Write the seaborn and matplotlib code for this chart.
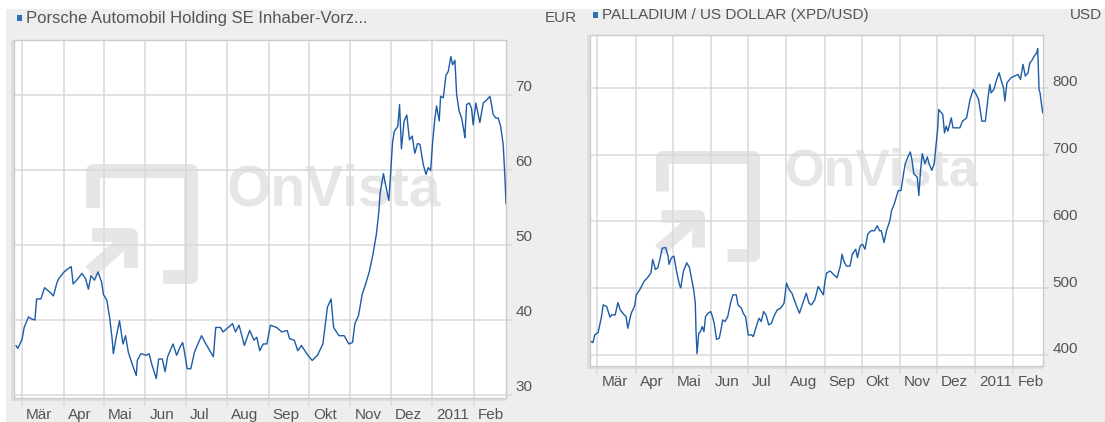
import matplotlib
matplotlib.use("Agg")
import matplotlib.pyplot as plt
from matplotlib.lines import Line2D
from matplotlib.patches import Rectangle
from matplotlib.transforms import ScaledTranslation
import pandas as pd
import seaborn as sns

# Zeitachse: Tage ab 01.03.2010
start = pd.Timestamp("2010-03-01")
month_ticks = pd.date_range("2010-03-01", "2011-02-01", freq="MS")
month_labels = ["Mär", "Apr", "Mai", "Jun", "Jul", "Aug", "Sep", "Okt", "Nov", "Dez", "2011", "Feb"]

# Porsche SE Vorzugsaktie (EUR)
por_day = [-4.5, -3.2, 0, 1.6, 4.8, 7.5, 9.6, 10.9, 14.1, 16.8, 20.8, 23.4, 26.1, 27.4, 31.4,
           34.1, 36.7, 38.1, 40.7, 44.7, 47.4, 49.5, 51.4, 54.0, 56.7, 59.4, 60.7, 63.3, 65.5,
           67.3, 68.1, 70.0, 72.7, 75.3, 77.2, 79.3, 82.0, 85.2, 86.0, 88.6, 92.6, 94.8, 96.6,
           100.1, 101.9, 104.6, 106.7, 108.6, 112.6, 115.3, 117.9, 119.8, 121.4, 123.2, 125.9,
           128.6, 131.2, 133.9, 136.5, 142.7, 144.5, 148.0, 149.9, 153.8, 157.0, 159.2, 161.8,
           164.0, 165.8, 169.8, 173.0, 175.1, 177.3, 179.9, 182.6, 185.3, 189.8, 193.8, 197.8,
           199.6, 203.1, 205.7, 208.4, 212.4, 216.4, 220.4, 224.4, 227.8, 230.5, 232.4, 236.4,
           240.3, 243.8, 246.5, 248.3, 251.0, 253.7, 256.3, 259.0, 261.6, 264.3, 266.2, 267.0,
           269.6, 271.5, 273.6, 275.0, 276.3, 277.6, 280.3, 281.6, 283.0, 285.0, 287.0, 289.0,
           291.0, 293.0, 295.0, 296.8, 299.3, 301.3, 303.0, 304.8, 306.3, 308.0, 309.2, 311.2,
           312.2, 314.2, 316.2, 317.9, 319.9, 321.2, 322.9, 324.2, 326.1, 327.9, 329.6, 330.3,
           331.6, 333.5, 335.3, 336.5, 338.5, 340.2, 341.5, 344.0, 346.5, 349.0, 350.2, 351.4,
           353.4, 355.2, 357.0, 358.9, 360.2, 361.0]
por_val = [36.6, 36.2, 37.4, 39.0, 40.4, 40.1, 40.0, 42.8, 42.8, 44.3, 43.7, 43.2, 45.0, 45.5, 46.4,
           46.8, 47.1, 44.8, 45.3, 46.2, 45.5, 44.1, 45.9, 45.3, 46.4, 45.0, 43.4, 42.6, 40.1,
           37.3, 35.5, 37.5, 39.9, 36.8, 37.9, 35.7, 34.2, 32.6, 34.6, 35.5, 35.3, 35.5, 34.2,
           32.2, 34.8, 34.8, 33.1, 35.1, 36.8, 35.3, 36.4, 37.0, 35.5, 33.5, 33.5,
           35.7, 36.8, 37.9, 37.0, 35.1, 39.0, 39.0, 38.4, 39.0, 39.5, 38.4, 39.3,
           37.9, 36.6, 38.6, 37.3, 37.7, 35.9, 36.8, 36.8, 39.3, 39.0, 38.4, 38.6,
           37.5, 37.3, 35.9, 36.6, 35.5, 34.6, 35.3, 36.8, 41.7, 42.8, 39.0, 37.9,
           37.9, 36.8, 37.0, 39.5, 40.6, 43.4, 44.8, 46.4, 48.6, 51.4, 54.5, 56.8,
           59.5, 57.7, 55.9, 59.7, 63.5, 65.1, 65.8, 68.7, 62.8, 66.5, 67.3, 64.0,
           64.5, 62.2, 63.5, 63.4, 60.7, 59.4, 60.3, 59.9, 63.8, 66.9, 68.5, 66.5,
           69.8, 69.6, 72.6, 73.1, 75.1, 74.0, 74.6, 70.0, 67.8, 66.9, 65.2, 64.3,
           68.7, 68.9, 68.2, 66.0, 68.9, 67.4, 66.3, 68.9, 69.3, 69.8, 68.7, 67.4,
           66.9, 66.9, 65.8, 63.4, 59.0, 55.5]

# Palladium / US-Dollar
pal_day = [-5.0, -3.6, -2.2, 0.6, 3.3, 4.7, 7.5, 8.8, 10.2, 11.6, 14.4, 16.6, 18.5, 21.3, 23.2,
           24.6, 27.4, 30.2, 31.5, 34.3, 37.9, 40.6, 43.4, 44.8, 47.0, 48.9, 50.9, 52.5, 55.3,
           57.2, 58.1, 60.0, 62.0, 64.1, 66.4, 67.5, 69.7, 72.4, 74.6, 76.6, 78.0, 79.3, 79.9,
           80.7, 82.1, 83.5, 84.9, 86.3, 87.6, 89.6, 91.8, 93.2, 94.6, 96.5, 98.7, 100.1, 101.5,
           103.4, 105.6, 107.8, 109.8, 112.5, 113.9, 116.7, 118.1, 120.0, 122.2, 125.0, 126.3,
           129.1, 131.0, 132.7, 134.6, 136.6, 138.8, 141.0, 142.9, 145.7, 148.5, 151.2, 153.2,
           155.4, 157.6, 159.5, 161.5, 163.7, 166.4, 169.2, 171.4, 173.3, 176.1, 178.9, 183.0,
           184.4, 185.8, 188.6, 191.3, 194.1, 196.8, 198.2, 199.6, 201.8, 204.6, 206.5, 209.3,
           210.7, 212.9, 214.8, 216.8, 219.0, 221.7, 224.5, 226.7, 228.6, 230.0, 232.2, 234.2,
           236.9, 238.3, 240.5, 242.5, 243.8, 246.0, 248.0, 249.4, 251.6, 253.5, 254.9, 256.3,
           259.1, 260.4, 261.8, 263.2, 265.4, 267.3, 268.7, 270.9, 272.9, 274.2, 275.6, 276.5,
           279.8, 281.2, 282.6, 283.9, 286.7, 288.1, 290.8, 293.6, 295.8, 299.1, 301.9, 304.6,
           306.9, 308.8, 311.5, 314.3, 316.3, 317.9, 319.0, 321.2, 323.5, 325.4, 327.3, 329.0,
           330.1, 331.8, 335.1, 337.9, 340.7, 342.8, 344.8, 346.7, 348.9, 350.3, 351.7, 353.9,
           355.9, 356.7, 357.8, 358.6, 360.0, 360.8]
pal_val = [420, 418.5, 430, 433.5, 457.5, 475, 472.5, 465, 456.5, 460, 460, 478.5, 467.5, 461, 457.5,
           440, 462.5, 473.5, 490, 497.5, 510.6, 515.6, 523, 543, 528, 530.6, 545.7, 559.8, 560.8,
           548, 535.7, 545.7, 548, 525.6, 505.5, 500.5, 525.6, 538, 530.6, 510.6, 497.5, 477.5, 435,
           402, 432.5, 435, 442.5, 435, 457.5, 462.5, 465, 457.5, 447.5, 423.5, 425, 437.5, 452.5,
           450, 457.5, 477.5, 490, 490, 475, 470, 462.5, 457.5, 430, 430, 427.5,
           445, 455, 450, 465, 460, 445, 447.5, 457.5, 467.5, 470, 477.5, 507.5,
           497.5, 492.5, 482.5, 472.5, 462.5, 477.5, 492.5, 477.5, 475, 482.5, 502.5, 490,
           510.6, 523, 525.6, 520.6, 515.6, 533, 550.8, 540.7, 533, 533, 550.8, 558.3,
           545.7, 563.3, 565.8, 558.3, 580.9, 586, 586, 593.5, 586, 586, 568.3, 586,
           601, 616, 626, 638.7, 646.2, 646.2, 671.4, 686.4, 696.5, 704, 691.5, 671.4,
           666.3, 638.7, 676.4, 701.5, 686.4, 696.5, 686.4, 676.4, 686.4, 711.6, 736.7, 767.5,
           760, 732.5, 742.5, 735, 755, 740, 740, 740, 750, 755, 782.5, 797.5,
           790, 782.5, 750, 750, 782.5, 805, 792.5, 797.5, 812.5, 822.5, 810, 800,
           780, 807.5, 815, 817.5, 820, 812.5, 835, 817.5, 822.5, 837.5, 840, 847.5,
           852.5, 858.5, 797.5, 792.5, 772.5, 762.5]

W, H = 1105, 422
BG = "#eeeeee"
GRID = "#d9d9d9"
LINE = "#1d5ca6"
TXT = "#555555"
MARK = "#2f6fb3"
WM = "#e6e6e6"

sns.set_theme(style="white")
plt.rcParams["font.family"] = ["Liberation Sans", "DejaVu Sans"]

fig = plt.figure(figsize=(W / 100, H / 100), dpi=100, facecolor="white")
fig.add_artist(Rectangle((6 / W, 0), 1, 1 - 9 / H, transform=fig.transFigure,
                         facecolor=BG, edgecolor="none", zorder=-2))


def fx(x):
    return x / W


def fy(y):
    return 1 - y / H


def watermark(ax, x0, y0, s, tx, ty, tsize):
    # OnVista-Logo (Rahmen + Pfeil) und Schriftzug, grob nachgezeichnet
    paths = [
        [(10, 44), (10, 7), (108, 7), (108, 113), (80, 113)],
        [(9, 71), (48, 71), (48, 104)],
        [(7, 108), (45, 74)],
    ]
    for p in paths:
        xs = [fx(x0 + s * px) for px, _ in p]
        ys = [fy(y0 + s * py) for _, py in p]
        ax.add_line(Line2D(xs, ys, transform=fig.transFigure, color=WM, lw=10 * s,
                           solid_joinstyle="round", solid_capstyle="butt", zorder=0.2))
    ax.text(fx(tx), fy(ty), "OnVista", transform=fig.transFigure, fontsize=tsize,
            fontweight="bold", color=WM, ha="center", va="center", zorder=0.2)


def draw_panel(box, days, vals, ylim, yticks, title, tsize, unit, unit_x, title_y, lab_up, xpad):
    x0, y0, x1, y1 = box
    # leichter Schatten links/unten
    fig.add_artist(Rectangle((fx(x0 - 3), fy(y1 + 3)), (x1 - x0 + 3) / W, (y1 - y0 + 3) / H,
                             transform=fig.transFigure, facecolor="#dedede",
                             edgecolor="none", zorder=-1))
    ax = fig.add_axes([fx(x0), fy(y1), (x1 - x0) / W, (y1 - y0) / H])
    ax.set_facecolor("white")
    dates = start + pd.to_timedelta(days, unit="D")
    sns.lineplot(x=dates, y=vals, ax=ax, color=LINE, linewidth=1.0,
                 estimator=None, sort=False, zorder=3)
    ax.set_xlim(pd.Timestamp("2010-02-23"), pd.Timestamp("2011-02-25"))
    ax.set_ylim(*ylim)
    ax.set_xticks(month_ticks)
    ax.set_xticklabels(month_labels)
    ax.set_yticks(yticks)
    ax.set_yticklabels([str(v) for v in yticks])
    ax.yaxis.tick_right()
    ax.grid(True, color=GRID, linewidth=1.1)
    ax.set_axisbelow(True)
    ax.set_xlabel("")
    ax.set_ylabel("")
    for sp in ax.spines.values():
        sp.set_color("#cccccc")
        sp.set_linewidth(1.0)
    ax.tick_params(axis="x", bottom=True, length=6, width=1.1, color=GRID, pad=xpad,
                   labelsize=11, labelcolor=TXT)
    ax.tick_params(axis="y", right=True, left=False, length=4, width=1.1, color=GRID, pad=3,
                   labelsize=11, labelcolor=TXT)
    shift_x = ScaledTranslation(4 / 100, 0, fig.dpi_scale_trans)
    for lab in ax.get_xticklabels():
        lab.set_horizontalalignment("left")
        lab.set_transform(lab.get_transform() + shift_x)
    shift_y = ScaledTranslation(0, lab_up / 100, fig.dpi_scale_trans)
    for lab in ax.get_yticklabels():
        lab.set_transform(lab.get_transform() + shift_y)
    # Titel mit blauem Kästchen, Einheit rechts oben
    fig.add_artist(Rectangle((fx(x0 + 3), fy(title_y + 3)), 5 / W, 6 / H,
                             transform=fig.transFigure, facecolor=MARK, edgecolor="none"))
    fig.text(fx(x0 + 12), fy(title_y), title, fontsize=tsize, color=TXT, ha="left", va="center")
    fig.text(fx(unit_x), fy(title_y), unit, fontsize=11, color=TXT, ha="right", va="center")
    return ax


ax1 = draw_panel((14, 40, 506, 398), por_day, por_val, (29.6, 77.3), [30, 40, 50, 60, 70],
                 "Porsche Automobil Holding SE Inhaber-Vorz...", 12, "EUR", 577, 18, 9, 1.5)
watermark(ax1, 83, 164, 1.0, 334, 190, 41)

ax2 = draw_panel((590, 35, 1043, 366), pal_day, pal_val, (383.5, 879), [400, 500, 600, 700, 800],
                 "PALLADIUM / US DOLLAR (XPD/USD)", 11, "USD", 1102, 15, 7, 0.2)
watermark(ax2, 653, 150, 0.93, 882, 172, 37)

fig.savefig("out.png", dpi=100, facecolor=fig.get_facecolor())
